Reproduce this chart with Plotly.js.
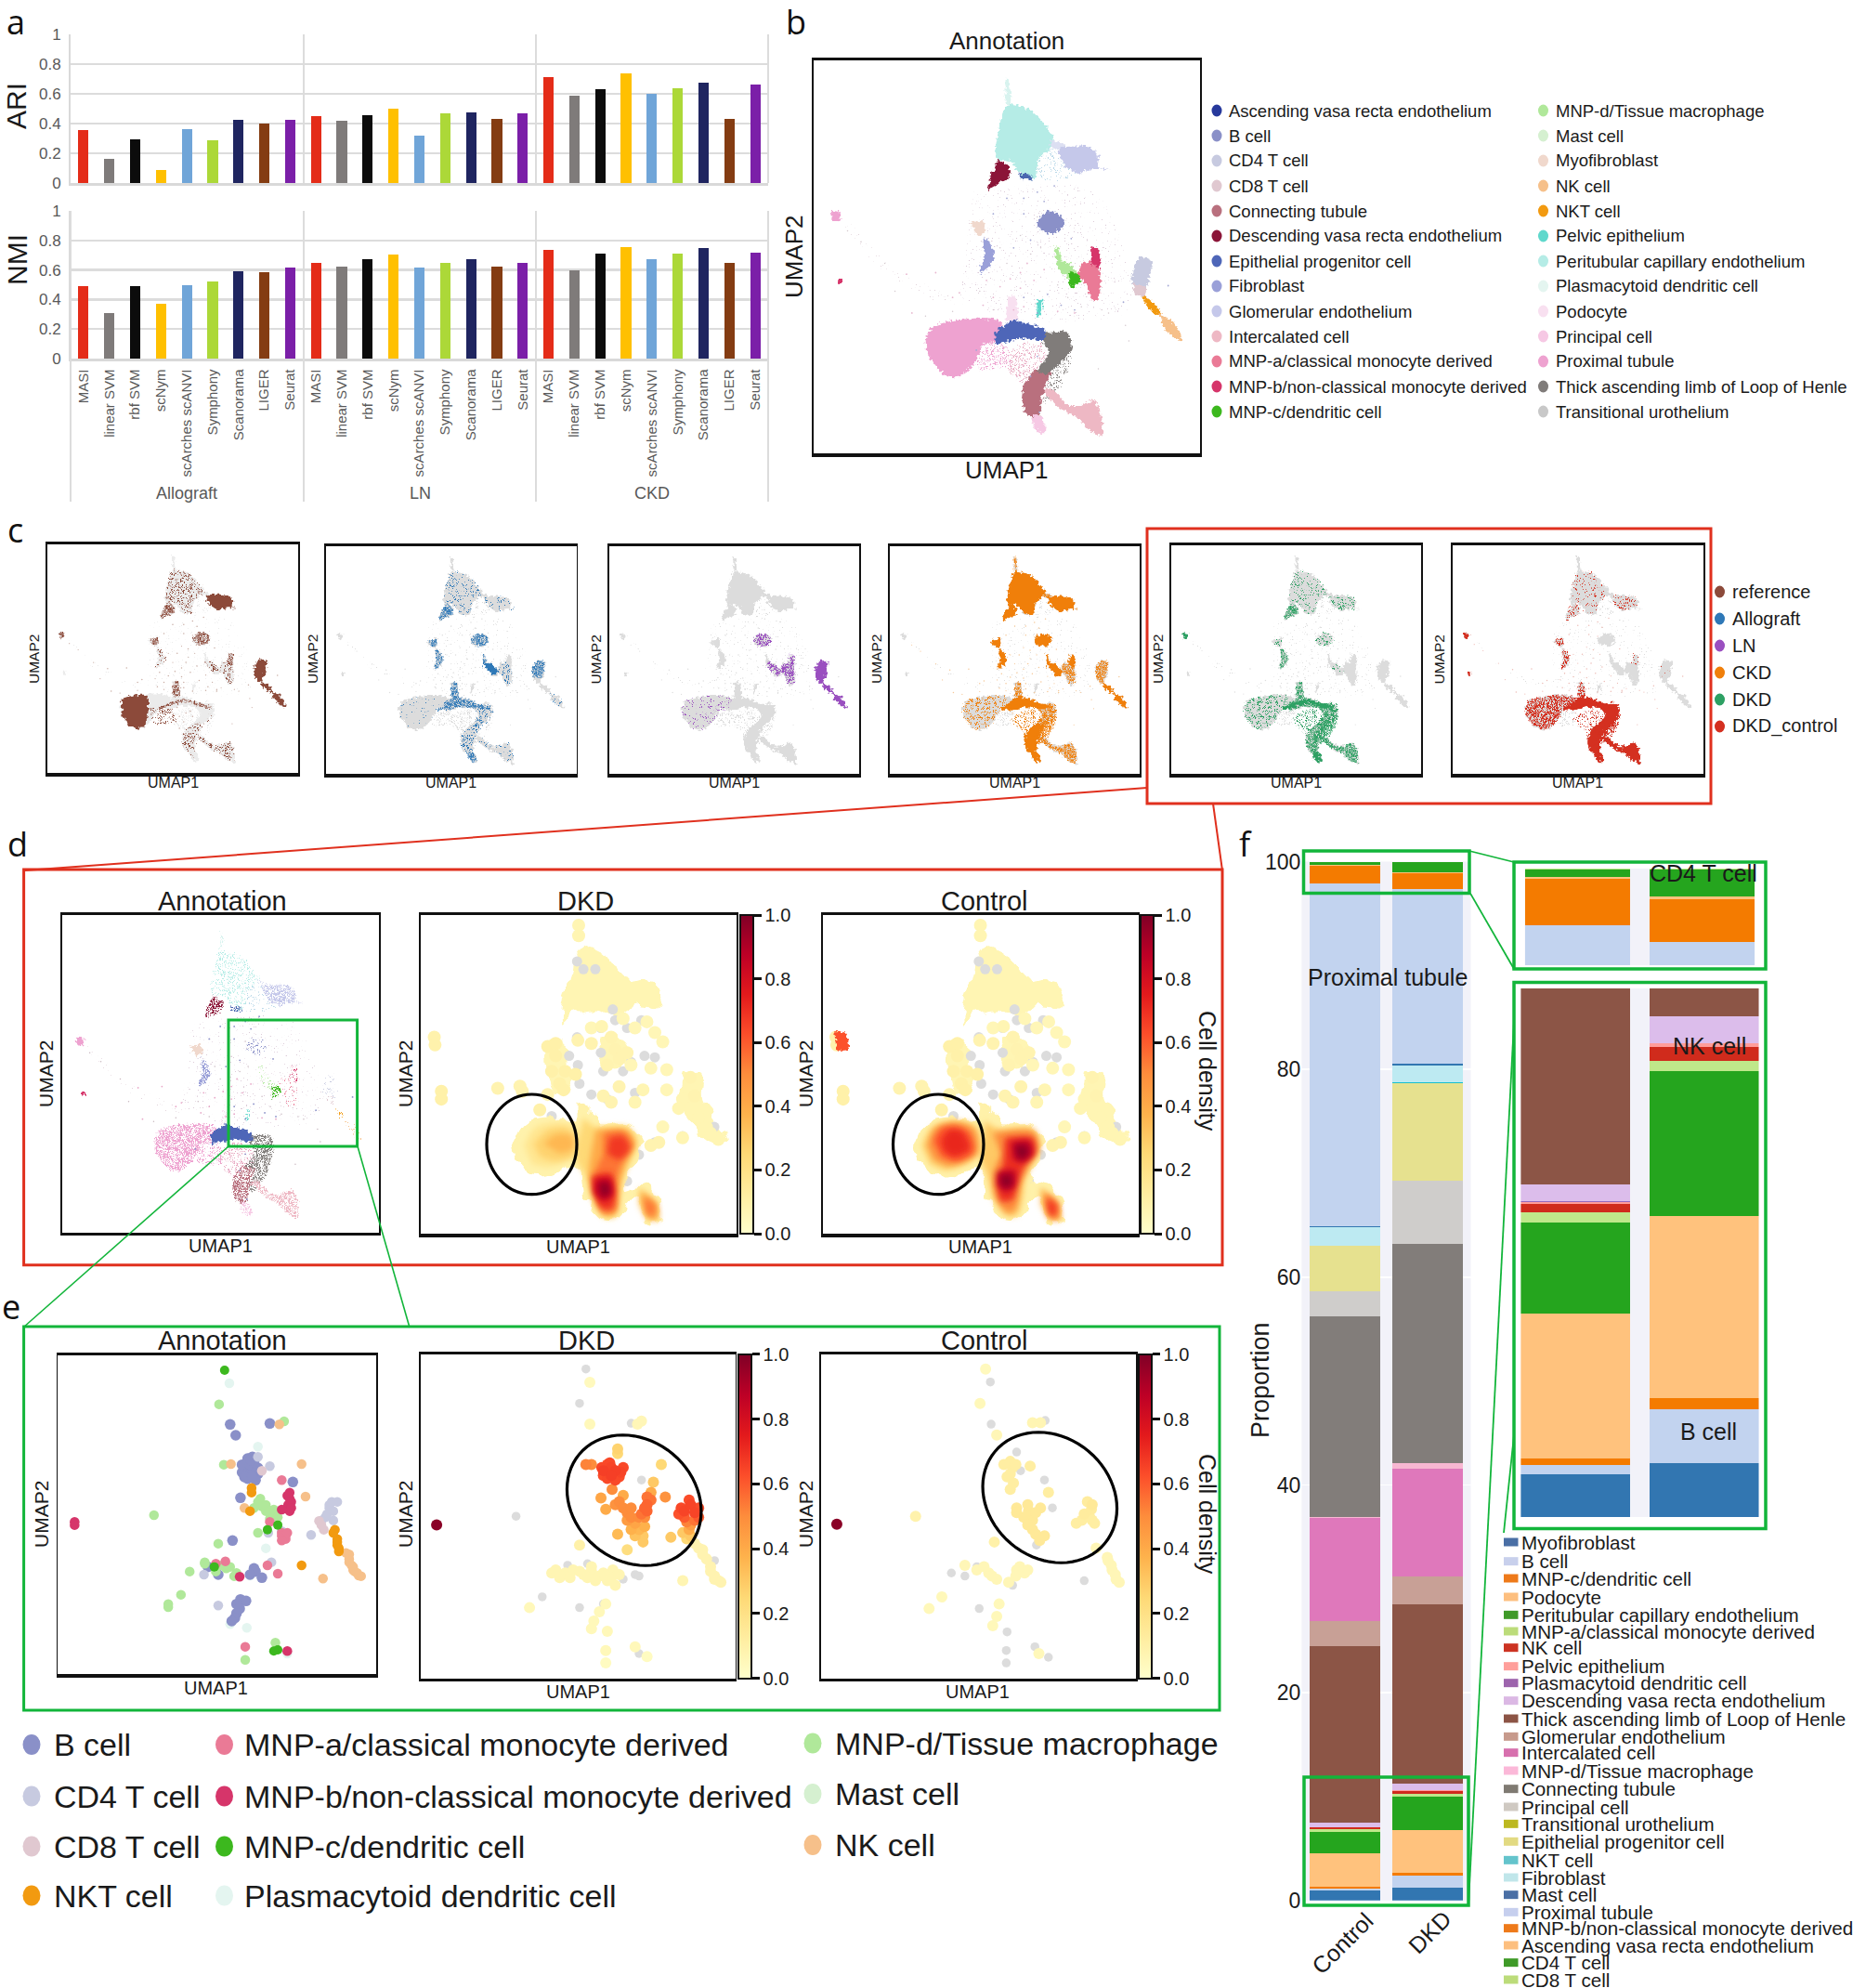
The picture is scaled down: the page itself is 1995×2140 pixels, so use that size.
<!DOCTYPE html>
<html><head><meta charset="utf-8">
<script src="https://cdn.plot.ly/plotly-3.0.1.min.js"></script>
<style>html,body{margin:0;padding:0;background:#fff}</style></head>
<body>
<svg width="0" height="0" style="position:absolute"><defs>
<filter id="rough" x="-30%" y="-30%" width="160%" height="160%" color-interpolation-filters="sRGB"><feTurbulence type="fractalNoise" baseFrequency=".3" numOctaves="2" seed="4" result="n"/><feDisplacementMap in="SourceGraphic" in2="n" scale="7" xChannelSelector="R" yChannelSelector="G"/></filter>
<filter id="bumpy" x="-30%" y="-30%" width="160%" height="160%" color-interpolation-filters="sRGB"><feTurbulence type="fractalNoise" baseFrequency=".07" numOctaves="2" seed="7" result="n"/><feDisplacementMap in="SourceGraphic" in2="n" scale="16" xChannelSelector="R" yChannelSelector="G"/></filter>
<filter id="sp0" x="-30%" y="-30%" width="160%" height="160%" color-interpolation-filters="sRGB"><feTurbulence type="fractalNoise" baseFrequency=".7" numOctaves="2" seed="2" result="n"/><feColorMatrix in="n" type="matrix" values="0 0 0 0 0 0 0 0 0 0 0 0 0 0 0 14 0 0 0 -9.9" result="m"/><feComposite in="SourceGraphic" in2="m" operator="in"/></filter>
<filter id="sp1" x="-30%" y="-30%" width="160%" height="160%" color-interpolation-filters="sRGB"><feTurbulence type="fractalNoise" baseFrequency=".6" numOctaves="2" seed="5" result="n"/><feColorMatrix in="n" type="matrix" values="0 0 0 0 0 0 0 0 0 0 0 0 0 0 0 14 0 0 0 -8.6" result="m"/><feComposite in="SourceGraphic" in2="m" operator="in" result="s"/><feDisplacementMap in="s" in2="n" scale="6" xChannelSelector="R" yChannelSelector="G"/></filter>
<filter id="sp2" x="-30%" y="-30%" width="160%" height="160%" color-interpolation-filters="sRGB"><feTurbulence type="fractalNoise" baseFrequency=".55" numOctaves="2" seed="9" result="n"/><feColorMatrix in="n" type="matrix" values="0 0 0 0 0 0 0 0 0 0 0 0 0 0 0 14 0 0 0 -7.6" result="m"/><feComposite in="SourceGraphic" in2="m" operator="in" result="s"/><feDisplacementMap in="s" in2="n" scale="6" xChannelSelector="R" yChannelSelector="G"/></filter>
<filter id="sp3" x="-30%" y="-30%" width="160%" height="160%" color-interpolation-filters="sRGB"><feTurbulence type="fractalNoise" baseFrequency=".5" numOctaves="2" seed="11" result="n"/><feColorMatrix in="n" type="matrix" values="0 0 0 0 0 0 0 0 0 0 0 0 0 0 0 14 0 0 0 -6.4" result="m"/><feComposite in="SourceGraphic" in2="m" operator="in" result="s"/><feDisplacementMap in="s" in2="n" scale="6" xChannelSelector="R" yChannelSelector="G"/></filter>
<filter id="soft" x="-30%" y="-30%" width="160%" height="160%"><feGaussianBlur stdDeviation="3"/></filter>
</defs></svg>
<div id="chart" style="width:1995px;height:2140px"></div>
<script>
/* ---------- panel a data ---------- */
const methods=['MASI','linear SVM','rbf SVM','scNym','scArches scANVI','Symphony','Scanorama','LIGER','Seurat'];
const methodColors=['#e42c18','#7f7b7a','#0c0c0c','#ffc000','#70a5d8','#acd838','#1f2560','#843c12','#7b1fa8'];
const tissues=['Allograft','LN','CKD'];
const ari=[.355,.16,.296,.09,.36,.287,.425,.403,.423, .447,.42,.454,.5,.316,.47,.477,.434,.47, .71,.586,.632,.74,.6,.64,.677,.434,.664];
const nmi=[.493,.31,.493,.37,.495,.52,.59,.587,.614, .65,.62,.675,.706,.619,.65,.675,.62,.65, .733,.6,.708,.756,.67,.713,.751,.65,.717];

/* ---------- UMAP territories (UMAP units) ---------- */
const ptc=[[325,335],[345,345],[365,375],[385,430],[390,460],[368,510],[360,578],[345,572],[325,520],[304,512],[308,420],[316,350]];
const peak=[[318,255],[322,255],[325,335],[318,335]];
const ptcSpray=[[360,480],[400,480],[420,560],[370,590]];
const desc=[[308,515],[325,545],[322,575],[300,600],[293,612],[296,570]];
const glom=[[400,475],[440,475],[455,500],[455,540],[470,545],[440,548],[425,560],[405,530],[395,490]];
const glomLink=[[385,450],[405,470],[400,485],[385,470]];
const asc=[[338,560],[355,565],[358,580],[340,578]];
const bcell=[[380,680],[400,695],[405,725],[390,752],[372,745],[365,720],[372,695]];
const myofib=[[266,718],[285,715],[288,740],[280,760],[272,745]];
const fibro=[[285,765],[295,785],[302,830],[290,870],[280,880],[287,830]];
const star=[[62,680],[72,685],[75,695],[72,715],[64,712],[60,695]];
const cross=[[71,900],[77,900],[77,914],[71,914]];
const mnpD=[[395,838],[410,850],[425,880],[430,900],[415,905],[400,875],[392,850]];
const mnpC=[[412,875],[425,885],[430,900],[415,928],[412,905]];
const mnpA=[[430,850],[445,845],[456,870],[455,965],[445,965],[437,920],[425,885]];
const mnpB=[[445,800],[455,800],[456,870],[444,850]];
const mnpLink=[[390,795],[396,800],[400,840],[393,840]];
const cd4=[[515,830],[533,840],[530,900],[525,930],[505,915],[507,860]];
const cd8=[[505,915],[525,925],[522,960],[510,950]];
const nkt=[[520,955],[535,975],[548,1015],[540,1015],[525,985]];
const nk=[[545,1010],[565,1040],[578,1098],[565,1085],[550,1055]];
const proximal=[[208,1055],[240,1035],[280,1028],[312,1040],[305,1100],[285,1110],[280,1140],[265,1190],[245,1218],[225,1205],[205,1150],[200,1100]];
const proxLeft=[[203,1050],[240,1030],[262,1035],[265,1100],[258,1190],[245,1218],[225,1205],[205,1150]];
const proxSpray=[[265,1100],[312,1095],[325,1180],[280,1195]];
const epith=[[330,1030],[350,1045],[375,1065],[380,1095],[340,1092],[305,1108],[303,1070]];
const tal=[[378,1075],[410,1075],[415,1130],[400,1170],[380,1205],[365,1200],[382,1140],[372,1100]];
const haze=[[310,1160],[340,1110],[372,1110],[380,1180],[345,1240],[320,1190]];
const conn=[[360,1195],[385,1190],[378,1240],[370,1300],[368,1340],[350,1340],[342,1290],[345,1240]];
const connSpray=[[385,1170],[415,1130],[410,1190],[395,1260],[375,1300],[370,1240]];
const intercal=[[430,1310],[448,1290],[458,1330],[460,1405],[440,1385],[425,1350],[400,1320],[375,1260],[385,1255],[410,1310]];
const principal=[[355,1345],[368,1340],[378,1385],[372,1400],[360,1380]];
const podocyte=[[322,955],[332,955],[335,1035],[318,1035]];
const pelvic=[[365,970],[372,965],[368,1020],[364,1020]];
const midHaze=[[270,620],[450,620],[500,1000],[330,1030],[250,960]];
const tailHaze=[[75,720],[140,880],[240,990],[255,980],[150,860],[90,720]];
const arcTrack=[[290,1105],[320,1075],[345,1060],[375,1080],[405,1100]];
const spineTrack=[[410,1100],[400,1170],[375,1230],[360,1300],[365,1380]];
const tailTrack=[[375,1250],[400,1310],[440,1340]];
const strayPink=[[330,1000],[345,990],[300,960],[285,985],[250,945],[240,960],[215,880],[172,885],[180,1010],[350,1130],[335,1150],[320,1170],[315,1125],[360,1120],[345,1180],[335,1215],[395,1005],[420,1010],[350,850],[340,880],[325,900],[360,905],[375,870],[340,930],[310,925],[290,905]];
const strayBlue=[[365,1010],[345,960],[380,950],[400,985],[355,775],[330,800],[300,690],[345,640],[365,620],[390,600],[375,650],[320,640],[415,770],[345,690],[420,1000],[492,975],[558,922],[330,1100],[365,1150],[355,1215],[368,1330],[275,1130]];
const strayGrey=[[140,850],[155,940],[105,780],[85,745],[200,1020],[240,1005],[280,940],[300,1000],[320,850],[355,820],[365,700],[340,760],[310,800],[370,800],[395,920],[410,960],[430,990],[460,1000],[500,1100],[470,1010],[455,1190],[495,1050]];

/* ---------- panel d density: pale points [umap x, umap y, density] and grey cells ---------- */
const dPale=[[729,228,.07],[729,262,.07],[547,590,.09],[548,615,.09],[556,765,.1],[556,790,.1],[627,755,.08],[655,748,.08],[658,765,.08],[690,620,.1],[700,610,.1],[700,650,.1],[695,700,.1],[705,740,.1],[712,700,.1],[745,610,.08],[770,590,.08],[775,630,.08],[780,660,.08],[790,640,.08],[765,680,.08],[795,680,.06],[820,690,.06],[840,695,.06],[835,605,.06],[825,575,.06],[800,560,.06],[785,530,.06],[745,560,.06],[840,760,.06],[860,790,.07],[870,720,.08],[875,780,.08],[855,820,.07],[880,850,.07],[890,880,.07],[905,920,.07],[895,900,.07],[830,930,.08],[820,940,.08],[860,915,.07],[835,880,.06],[760,780,.08],[780,750,.08],[810,760,.07],[770,800,.08],[800,800,.07],[680,825,.1],[728,600,.08],[758,555,.07],[815,540,.06],[690,775,.08],[710,760,.1],[725,710,.1]];
const dGrey=[[727,345],[735,370],[750,370],[772,500],[775,535],[757,560],[808,535],[790,560],[727,590],[717,650],[728,680],[757,640],[812,650],[825,655],[795,670],[760,700],[730,740],[745,775],[765,790],[785,700],[800,770],[695,845],[860,910],[825,930],[805,970],[795,990],[900,880],[790,1055]];
const dUpper=[[735,290],[760,320],[775,370],[790,410],[820,405],[835,470],[830,495],[800,490],[780,520],[765,520],[750,500],[720,520],[708,545],[708,480],[718,400],[722,340]];
const dMiddleA=[[755,590],[785,590],[795,650],[780,690],[755,680],[760,630]];
const dMiddleB=[[690,605],[710,610],[715,680],[722,770],[700,780],[692,720],[688,650]];
const dMiddleC=[[860,700],[885,700],[885,790],[905,860],[915,930],[895,935],[865,850],[855,770]];
const ctrlSpot=[[545,575],[558,575],[563,628],[548,632]];
/* density contours: level, outline */
const dkdContours=[
 [.09,[[645,940],[660,870],[700,850],[725,860],[730,960],[720,1000],[690,1035],[665,1030],[650,990]]],
 [.1,[[725,800],[745,830],[755,870],[790,870],[810,930],[800,1000],[790,1040],[790,1080],[815,1060],[830,1130],[830,1190],[815,1185],[800,1120],[775,1180],[760,1180],[740,1120],[735,1040],[715,980],[725,900]]],
 [.17,[[660,940],[675,880],[705,865],[725,880],[728,960],[715,990],[690,1010],[670,1000]]],
 [.27,[[672,935],[690,890],[715,885],[728,930],[722,975],[698,990],[680,975]]],
 [.36,[[685,935],[700,905],[720,910],[722,950],[705,965]]],
 [.25,[[735,850],[750,880],[790,880],[803,930],[795,990],[785,1040],[780,1110],[775,1170],[762,1172],[745,1110],[738,1040],[725,980],[730,900]]],
 [.3,[[805,1075],[825,1120],[830,1180],[817,1180],[805,1130]]],
 [.4,[[750,890],[790,890],[800,930],[790,990],[782,1060],[775,1160],[760,1165],[748,1100],[742,1030],[745,960]]],
 [.45,[[808,1095],[828,1130],[826,1175],[815,1170]]],
 [.55,[[760,900],[785,895],[797,940],[785,990],[775,1060],[775,1150],[760,1155],[750,1100],[748,1040],[760,970]]],
 [.55,[[812,1110],[824,1135],[822,1165],[815,1160]]],
 [.68,[[768,915],[785,910],[793,950],[780,985],[765,965]]],
 [.7,[[745,1040],[770,1030],[775,1100],[770,1145],[757,1140],[748,1090]]],
 [.85,[[750,1050],[768,1045],[772,1100],[760,1120],[748,1090]]],
 [.97,[[755,1065],[765,1060],[768,1095],[758,1105]]]];
const ctrlContours=[
 [.1,[[645,940],[660,870],[700,850],[728,860],[735,960],[720,1010],[690,1040],[665,1030],[650,990]]],
 [.1,[[725,800],[745,830],[755,870],[790,870],[810,930],[800,1000],[795,1050],[815,1065],[832,1130],[830,1190],[815,1185],[800,1120],[775,1180],[760,1180],[740,1120],[735,1040],[715,980],[725,900]]],
 [.28,[[655,940],[668,880],[700,860],[725,880],[730,960],[712,1000],[685,1020],[665,1000]]],
 [.48,[[662,940],[672,885],[695,865],[720,885],[726,960],[710,990],[688,1005],[670,985]]],
 [.62,[[670,925],[680,885],[700,880],[715,900],[720,960],[700,990],[680,975]]],
 [.72,[[680,925],[690,890],[705,895],[715,950],[695,975],[683,955]]],
 [.3,[[735,860],[750,885],[795,885],[805,940],[795,1000],[785,1050],[782,1110],[775,1165],[762,1168],[745,1110],[738,1040],[728,980]]],
 [.35,[[805,1075],[825,1120],[830,1180],[817,1180],[805,1130]]],
 [.5,[[745,900],[795,895],[802,950],[790,1000],[780,1060],[772,1150],[762,1155],[750,1110],[745,1030],[755,970]]],
 [.55,[[810,1095],[828,1130],[826,1175],[815,1170]]],
 [.68,[[812,1110],[824,1135],[822,1165],[815,1160]]],
 [.7,[[760,915],[795,915],[798,965],[785,1005],[775,1070],[770,1115],[755,1120],[750,1060],[758,1000]]],
 [.88,[[768,930],[790,925],[795,965],[782,995],[770,985]]],
 [.88,[[750,1025],[772,1020],[772,1075],[760,1090],[750,1065]]],
 [.98,[[773,945],[786,942],[788,970],[778,982]]],
 [.98,[[755,1040],[766,1038],[768,1065],[757,1072]]]];

/* ---------- panel e points ---------- */
const eBcell=[[290,340],[340,337],[297,375],[312,450],[320,460],[310,480],[320,490],[305,495],[315,505],[325,500],[312,515],[322,520],[305,470],[315,470],[325,480],[308,510],[318,510],[318,445],[316,455],[303,577],[369,526],[293,715],[262,800],[320,805],[322,815],[315,825],[330,835],[275,825],[303,905],[310,910],[298,920],[302,935],[298,950],[296,965],[292,975]];
const eMnpD=[[276,275],[358,330],[282,470],[325,590],[330,605],[335,620],[320,610],[345,630],[340,645],[328,580],[335,600],[340,620],[325,600],[345,615],[350,640],[194,633],[325,690],[275,725],[258,785],[272,815],[290,800],[298,820],[280,795],[258,790],[285,805],[295,830],[239,815],[228,890],[212,920],[212,930],[347,1045],[309,1100]];
const eNkt=[[317,545],[317,560],[315,620],[380,795],[422,680],[425,710],[425,730],[427,750],[420,690],[425,720],[427,740]];
const eNk=[[352,340],[291,468],[380,468],[385,573],[308,610],[407,838],[440,760],[440,785],[445,800],[447,815],[452,828],[436,755],[440,775],[443,795],[445,810],[450,820],[455,830]];
const eCd4=[[325,445],[340,475],[418,590],[415,610],[412,630],[420,650],[415,600],[420,620],[410,640],[405,650],[425,590],[355,685],[392,697],[342,785],[338,690],[275,925],[257,825]];
const eCd8=[[402,652],[408,680],[330,490],[405,665]];
const eMnpA=[[355,520],[340,655],[357,695],[360,710],[355,690],[355,700],[360,700],[355,715],[362,690],[272,790],[284,782],[337,795],[350,822],[309,1058]];
const eMnpB=[[365,560],[365,580],[363,600],[365,620],[355,615],[362,570],[367,590],[367,610],[94,655],[94,665],[302,832],[362,1072]];
const eMnpC=[[283,165],[350,665],[337,680],[270,800],[350,1068],[345,1072]];
const ePdc=[[289,207],[325,412],[335,740],[315,828],[311,997],[290,985],[362,1080]];
const eDkd=[[743,205,.04],[743,340,.05],[808,330,.06],[803,340,.06],[730,730,.1],[880,740,.08],[885,760,.08],[895,800,.08],[900,830,.08],[905,845,.08],[875,725,.08],[885,745,.08],[890,775,.08],[895,815,.08],[900,840,.08],[908,850,.08],[695,820,.07],[712,820,.07],[722,810,.07],[735,825,.07],[745,815,.07],[755,830,.07],[772,810,.07],[770,835,.07],[775,860,.07],[860,845,.07],[745,800,.07],[700,810,.07],[705,835,.07],[718,835,.07],[730,815,.07],[740,835,.07],[750,845,.07],[760,820,.07],[765,845,.07],[780,825,.07],[667,932,.05],[763,920,.05],[755,945,.05],[748,975,.05],[745,1000,.05],[765,1008,.05],[763,1070,.05],[800,1058,.05],[815,1090,.03],[763,1110,.03],[865,710,.25],[790,745,.22],[833,470,.25],[823,527,.3],[778,420,.27],[778,435,.25],[810,700,.3],[810,720,.3],[845,705,.3],[860,690,.3],[870,700,.3],[800,700,.32],[778,695,.35],[795,680,.38],[812,670,.38],[805,680,.36],[868,680,.4],[763,615,.4],[785,570,.4],[820,560,.4],[757,578,.42],[800,660,.42],[790,650,.45],[870,665,.45],[838,575,.48],[775,600,.48],[771,550,.5],[780,590,.5],[785,610,.5],[790,625,.5],[795,640,.5],[812,640,.5],[795,610,.5],[805,640,.5],[738,470,.52],[745,470,.5],[865,655,.52],[815,575,.55],[875,650,.55],[820,585,.55],[808,630,.55],[815,600,.58],[815,620,.58],[812,610,.58],[862,640,.6],[880,640,.6],[855,630,.62],[765,470,.62],[868,585,.63],[880,610,.63],[780,510,.63],[760,505,.63],[770,480,.65],[782,495,.65],[862,620,.65],[870,600,.65],[875,625,.65],[858,610,.64],[758,480,.64],[785,480,.64],[768,465,.64],[765,515,.64],[775,520,.64],[760,490,.66],[775,490,.66],[770,505,.66],[550,665,.98]];
const eDkdGrey=[[738,162],[730,273],[795,337],[650,637],[808,520],[715,795],[740,790],[785,840],[800,825],[805,830],[900,780],[683,897],[730,932],[760,920],[805,1080]];
const eCtrl=[[737,162,.04],[730,273,.05],[796,335,.07],[806,335,.07],[751,375,.06],[649,637,.09],[768,460,.12],[771,480,.12],[764,510,.12],[768,550,.12],[793,475,.12],[816,560,.12],[768,500,.12],[772,530,.12],[760,470,.12],[775,470,.12],[776,610,.15],[791,620,.15],[806,610,.15],[796,650,.15],[796,680,.15],[811,700,.15],[776,625,.15],[785,640,.15],[790,600,.15],[800,625,.15],[790,665,.15],[800,695,.15],[805,715,.15],[871,600,.15],[861,630,.13],[851,660,.12],[871,650,.12],[865,590,.13],[870,615,.13],[858,650,.12],[868,640,.12],[874,660,.12],[748,720,.1],[876,740,.06],[891,780,.06],[896,810,.06],[901,840,.06],[890,770,.06],[895,795,.06],[900,825,.06],[905,850,.06],[711,795,.06],[726,810,.06],[741,820,.06],[751,840,.06],[776,810,.06],[786,820,.06],[766,850,.06],[745,830,.06],[735,800,.06],[780,800,.06],[775,830,.06],[790,810,.06],[682,897,.05],[666,935,.05],[754,920,.05],[751,960,.05],[746,990,.05],[804,1080,.05],[550,663,.98]];
const eCtrlGrey=[[743,204],[744,340],[812,328],[776,430],[781,490],[811,520],[821,610],[801,730],[861,845],[694,820],[711,830],[726,800],[771,860],[729,935],[764,1010],[799,1058],[816,1092],[763,1070],[763,1110]];

/* ---------- panel f data: bottom to top ---------- */
const cellTypes=['Myofibroblast','B cell','MNP-c/dendritic cell','Podocyte','Peritubular capillary endothelium','MNP-a/classical monocyte derived','NK cell','Pelvic epithelium','Plasmacytoid dendritic cell','Descending vasa recta endothelium','Thick ascending limb of Loop of Henle','Glomerular endothelium','Intercalated cell','MNP-d/Tissue macrophage','Connecting tubule','Principal cell','Transitional urothelium','Epithelial progenitor cell','NKT cell','Fibroblast','Mast cell','Proximal tubule','MNP-b/non-classical monocyte derived','Ascending vasa recta endothelium','CD4 T cell','CD8 T cell'];
const controlShare=[.95,.21,.15,3.26,2.03,.23,.20,.04,.01,.38,17.04,2.4,9.9,.15,19.25,2.4,.02,4.38,.02,1.78,.1,33.04,1.69,.07,.28,.02];
const dkdShare=[1.2,1.22,.25,4.09,3.24,.23,.32,.08,.01,.6,17.26,2.7,10.4,.5,21.1,6.1,.02,9.38,.05,1.65,.15,16.79,1.56,.1,.95,.05];
const barColors=['#3276b1','#c2d3ef','#f47b00','#ffc27d','#25a51e','#bfe88a','#d02b1c','#ff9d9a','#9467bd','#dcbdeb','#8c5546','#c8a096','#df78bb','#f8b7d2','#827d7a','#cfcdcb','#bcbd22','#e6e18f','#17becf','#bdeaf2','#3276b1','#c2d3ef','#f47b00','#ffc27d','#25a51e','#bfe88a'];
const keyColors=['#4a6fa5','#c8d0ec','#ee7a1a','#fdbf7f','#3f9a28','#bcdc7a','#cc3322','#ff9f9b','#9d64ad','#dbb8e4','#8c5445','#c79a8c','#d770ae','#fbb8d8','#7f7a72','#cfc9c2','#bcb820','#e2da82','#64c4cc','#c0e6ea','#4a6fa5','#c6cfee','#ee7a1a','#fdbf7f','#3f9a28','#bcdc7a'];

/* ---------- legends ---------- */
const annotLegendA=[['Ascending vasa recta endothelium','#27399c'],['B cell','#8a90c8'],['CD4 T cell','#c7cae0'],['CD8 T cell','#e0c8d0'],['Connecting tubule','#b9707e'],['Descending vasa recta endothelium','#8b1538'],['Epithelial progenitor cell','#4e66b8'],['Fibroblast','#9aa0d8'],['Glomerular endothelium','#c5c8ea'],['Intercalated cell','#eeb8c4'],['MNP-a/classical monocyte derived','#ea7a96'],['MNP-b/non-classical monocyte derived','#d6356a'],['MNP-c/dendritic cell','#3cb81e']];
const annotLegendB=[['MNP-d/Tissue macrophage','#b0e89a'],['Mast cell','#d5f0d0'],['Myofibroblast','#f0d8cc'],['NK cell','#f6c08a'],['NKT cell','#f29a10'],['Pelvic epithelium','#60d8cc'],['Peritubular capillary endothelium','#b5ece6'],['Plasmacytoid dendritic cell','#e4f5f0'],['Podocyte','#f8e0f0'],['Principal cell','#f6c8e4'],['Proximal tubule','#eea2d0'],['Thick ascending limb of Loop of Henle','#807c7a'],['Transitional urothelium','#c8c8c8']];
const datasets=[['reference','#8c4a3a'],['Allograft','#2e78b7'],['LN','#9a4fc0'],['CKD','#f07f0a'],['DKD','#2da063'],['DKD_control','#d43020']];

/* ---------- colours of territories ---------- */
const C={midHaze:'#dccbd8',tailHaze:'#e2d2da',ptcSpray:'#b9d8e8',proxSpray:'#eea2d0',ptc:'#b5ece6',peak:'#d8f3ef',desc:'#8b1538',glom:'#c5c8ea',glomLink:'#dcdff2',asc:'#4a66b0',bcell:'#8a90c8',myofib:'#f0d8cc',fibro:'#9aa0d8',star:'#eea2d0',cross:'#d6356a',mnpD:'#b0e89a',mnpC:'#3cb81e',mnpA:'#ea7a96',mnpB:'#d6356a',mnpLink:'#b0e89a',cd4:'#c7cae0',cd8:'#e0c8d0',nkt:'#f29a10',nk:'#f6c08a',proximal:'#eea2d0',epith:'#4e66b8',tal:'#807c7a',haze:'#e8a8c0',conn:'#b9707e',connSpray:'#8f8a88',intercal:'#eeb8c4',principal:'#f6c8e4',podocyte:'#f8e0f0',pelvic:'#60d8cc'};
const P={midHaze,tailHaze,ptcSpray,proxSpray,ptc,peak,desc,glom,glomLink,asc,bcell,myofib,fibro,star,cross,mnpD,mnpC,mnpA,mnpB,mnpLink,cd4,cd8,nkt,nk,proximal,proxLeft,epith,tal,haze,conn,connSpray,intercal,principal,podocyte,pelvic};
const drawOrder=['midHaze','tailHaze','peak','podocyte','haze','proxSpray','ptcSpray','ptc','glomLink','glom','desc','asc','bcell','myofib','fibro','star','cross','mnpLink','mnpD','mnpA','mnpB','mnpC','cd4','cd8','nkt','nk','proximal','epith','connSpray','intercal','conn','principal','tal','pelvic'];
const baseTexture={midHaze:'sp0',tailHaze:'sp0',proxSpray:'sp2',ptcSpray:'sp1',haze:'sp2',connSpray:'sp2'};

const fgPanels=[
 {color:'#8c4a3a',bg:'#ebebeb',stray:'#c9ada4',use:{proxLeft:1,glom:.9,bcell:.85,cd4:1,cd8:1,nkt:1,nk:1,myofib:.5,fibro:.3,ptc:.35,desc:.5,mnpA:.4,mnpB:.6,mnpD:.4,intercal:.4,star:.8,podocyte:.5,proxSpray:.4,conn:.25},tracks:[[arcTrack,3,.7],[spineTrack,2,.25],[tailTrack,1.5,.4]]},
 {color:'#2e78b7',bg:'#dcdcdc',stray:'#dedede',use:{ptc:.1,desc:.6,glom:.18,bcell:.65,fibro:.8,mnpD:.9,mnpA:.25,mnpLink:.8,cd4:.5,nk:.15,proximal:.04,epith:.5,tal:.35,conn:.28,principal:.7,intercal:.15,podocyte:.6,myofib:.5},tracks:[[arcTrack,3,.8],[spineTrack,2,.45]]},
 {color:'#9a4fc0',bg:'#dcdcdc',stray:'#dedede',use:{bcell:.8,mnpD:.6,mnpA:.5,mnpB:.8,mnpC:.6,cd4:.9,cd8:.9,nkt:1,nk:.9,proximal:.12},tracks:[]},
 {color:'#f07f0a',bg:'#dcdcdc',stray:'#f5c798',use:{peak:.7,ptc:1,desc:1,glom:1,glomLink:.7,bcell:1,myofib:1,fibro:1,mnpD:1,mnpLink:1,mnpA:.7,mnpB:1,mnpC:1,cd4:.5,cd8:.5,nkt:.9,nk:.9,proximal:.42,epith:1,tal:.7,haze:.3,conn:.9,connSpray:.8,principal:.9,intercal:.8,podocyte:.8},tracks:[[arcTrack,4,1],[spineTrack,3,.8],[tailTrack,2,.8]]},
 {color:'#2da063',bg:'#dcdcdc',stray:'#dedede',use:{ptc:.1,desc:.5,glom:.28,bcell:.3,fibro:.7,myofib:.4,star:1,mnpD:.1,proximal:.32,epith:.85,tal:.85,conn:.85,connSpray:.7,principal:.9,intercal:.75,podocyte:.8,haze:.2},tracks:[[arcTrack,4,1],[spineTrack,4,.8],[tailTrack,2,.8]]},
 {color:'#d43020',bg:'#dcdcdc',stray:'#edbcb6',use:{ptc:.14,desc:.4,glom:.25,fibro:.5,myofib:.6,star:1,cross:1,proximal:.55,epith:1,tal:1,conn:1,connSpray:.8,principal:1,intercal:.9,podocyte:.85,haze:.3,mnpB:.3,cd4:.05},tracks:[[arcTrack,4,1],[spineTrack,4,1],[tailTrack,2,1]]}
];
const annotationDDensity={midHaze:.05,tailHaze:.05,peak:.3,podocyte:.3,haze:.3,proxSpray:.3,ptcSpray:.1,ptc:.22,glomLink:.2,glom:.6,desc:.7,asc:.7,bcell:.3,myofib:.9,fibro:.6,star:.9,cross:.9,mnpLink:.2,mnpD:.4,mnpA:.15,mnpB:.2,mnpC:.5,cd4:.15,cd8:.15,nkt:.12,nk:.12,proximal:.7,epith:.9,connSpray:.6,intercal:.8,conn:.7,principal:.8,tal:.8,pelvic:.2};

const colorStops=[[0,'#ffffcc'],[.125,'#ffeda0'],[.25,'#fed976'],[.375,'#feb24c'],[.5,'#fd8d3c'],[.625,'#fc4e2a'],[.75,'#e31a1c'],[.875,'#bd0026'],[1,'#800026']];

/* ---------- helpers ---------- */
const W=1995,H=2140,FONT='"Liberation Sans",Arial,sans-serif';
const traces=[],annotations=[],shapes=[];
const layout={width:W,height:H,margin:{l:0,r:0,t:0,b:0},autosize:false,showlegend:false,barmode:'stack',paper_bgcolor:'#fff',plot_bgcolor:'#fff',font:{family:FONT,color:'#1a1a1a'},hovermode:false,annotations,shapes};
let axisCount=0;
function axes(r,xo,yo){
  axisCount++;const n=axisCount===1?'':axisCount;
  layout['xaxis'+n]=Object.assign({domain:[r[0]/W,r[1]/W],anchor:'y'+n,showgrid:false,zeroline:false,showticklabels:false,ticks:''},xo);
  layout['yaxis'+n]=Object.assign({domain:[1-r[3]/H,1-r[2]/H],anchor:'x'+n,showgrid:false,zeroline:false,showticklabels:false,ticks:''},yo);
  return {x:'x'+n,y:'y'+n};
}
function frameAxes(r,xr,yr){
  return axes(r,{range:xr,showline:true,mirror:true,linecolor:'#111',linewidth:3.5},{range:yr,showline:true,mirror:true,linecolor:'#111',linewidth:1.8});
}
const fx=v=>v/W, fy=v=>1-v/H;
function txt(text,x,y,size,o={}){
  annotations.push({text,x:fx(x),y:fy(y),xref:'paper',yref:'paper',showarrow:false,xanchor:o.anchor||'center',yanchor:'middle',textangle:o.angle||0,font:{size,family:o.family||FONT,color:o.color||'#1a1a1a'}});
}
function line(x0,y0,x1,y1,color,width){shapes.push({type:'line',xref:'paper',yref:'paper',x0:fx(x0),y0:fy(y0),x1:fx(x1),y1:fy(y1),line:{color,width}});}
function box(x0,y0,x1,y1,color,width){shapes.push({type:'rect',xref:'paper',yref:'paper',x0:fx(x0),y0:fy(y0),x1:fx(x1),y1:fy(y1),line:{color,width},fillcolor:'rgba(0,0,0,0)'});}
function oval(x0,y0,x1,y1,color,width,fill){shapes.push({type:'circle',xref:'paper',yref:'paper',x0:fx(x0),y0:fy(y0),x1:fx(x1),y1:fy(y1),line:{color,width},fillcolor:fill||'rgba(0,0,0,0)'});}
function dot(cx,cy,rx,ry,color){oval(cx-rx,cy-ry,cx+rx,cy+ry,color,0,color);}
/* tilted ring drawn over a density panel */
function tiltedRing(cx,cy,rx,ry,skew){
  let p='';
  for(let i=0;i<=72;i++){
    const t=i/72*2*Math.PI,c=Math.cos(t),s=Math.sin(t);
    p+=(i?'L':'M')+fx(cx+rx*c+skew*s)+','+fy(cy+ry*s+skew*c);
  }
  shapes.push({type:'path',xref:'paper',yref:'paper',path:p+'Z',line:{color:'#000',width:3.2},fillcolor:'rgba(0,0,0,0)'});
}
function poly(a,pts,color,op,texture){
  traces.push({type:'scatter',mode:'lines',xaxis:a.x,yaxis:a.y,meta:texture||'',x:pts.map(p=>p[0]),y:pts.map(p=>p[1]),fill:'toself',fillcolor:color,opacity:op,line:{color:'rgba(0,0,0,0)',width:0,shape:'spline',smoothing:.8},hoverinfo:'skip'});
}
function track(a,pts,color,width,texture){
  traces.push({type:'scatter',mode:'lines',xaxis:a.x,yaxis:a.y,meta:texture,x:pts.map(p=>p[0]),y:pts.map(p=>p[1]),line:{color,width,shape:'spline'},hoverinfo:'skip'});
}
function pts(a,list,color,size,op){
  traces.push({type:'scatter',mode:'markers',xaxis:a.x,yaxis:a.y,x:list.map(p=>p[0]),y:list.map(p=>p[1]),opacity:op===undefined?1:op,marker:{color,size,line:{width:0}},hoverinfo:'skip'});
}
function texture(d){return d>=.9?'rough':d>=.5?'sp3':d>=.2?'sp2':d>=.08?'sp1':'sp0';}
function hexToRgb(h){return [1,3,5].map(i=>parseInt(h.substr(i,2),16));}
function densityColor(z){
  for(let i=1;i<colorStops.length;i++){
    if(z<=colorStops[i][0]){
      const a=colorStops[i-1],b=colorStops[i],t=(z-a[0])/(b[0]-a[0]),ca=hexToRgb(a[1]),cb=hexToRgb(b[1]);
      return 'rgb('+ca.map((c,k)=>Math.round(c+(cb[k]-c)*t)).join(',')+')';
    }
  }
  return colorStops[colorStops.length-1][1];
}
function colorbar(x,y0,y1){
  return {x:fx(x),xanchor:'left',xpad:0,ypad:0,y:fy(y1),yanchor:'bottom',len:y1-y0,lenmode:'pixels',thickness:14,thicknessmode:'pixels',tickvals:[0,.2,.4,.6,.8,1],ticktext:['0.0','0.2','0.4','0.6','0.8','1.0'],ticks:'outside',ticklen:8,tickwidth:3,tickcolor:'#111',outlinecolor:'#111',outlinewidth:2,tickfont:{size:20,color:'#1a1a1a',family:FONT}};
}
function densityPts(a,list,size,cb){
  const s=list.slice().sort((p,q)=>p[2]-q[2]);
  traces.push({type:'scatter',mode:'markers',xaxis:a.x,yaxis:a.y,x:s.map(p=>p[0]),y:s.map(p=>p[1]),marker:{size,color:s.map(p=>p[2]),cmin:0,cmax:1,colorscale:colorStops,showscale:!!cb,colorbar:cb,line:{width:0}},hoverinfo:'skip'});
}
const UX=[35,605],UY=[1463,195];

/* ---------- panel a ---------- */
const aIdx=ari.map((_,i)=>i);
const aColors=aIdx.map(i=>methodColors[i%9]);
const aTicks=aIdx.map(i=>methods[i%9]);
function aPanel(r,vals,labels){
  const a=axes(r,{range:[-.5,26.5],showline:true,linecolor:'#d9d9d9',linewidth:2.5,showticklabels:labels,tickvals:aIdx,ticktext:aTicks,tickangle:-90,ticks:labels?'outside':'',ticklen:3,tickcolor:'rgba(0,0,0,0)',tickfont:{size:15,color:'#595959'}},
    {range:[0,1],showline:true,linecolor:'#d9d9d9',linewidth:2,showgrid:true,gridcolor:'#dcdcdc',gridwidth:2.5,tickvals:[0,.2,.4,.6,.8,1],ticktext:['0','0.2','0.4','0.6','0.8','1'],showticklabels:true,tickfont:{size:17,color:'#595959'},ticks:'outside',ticklen:5,tickcolor:'rgba(0,0,0,0)'});
  traces.push({type:'bar',xaxis:a.x,yaxis:a.y,x:aIdx,y:vals,width:.4,marker:{color:aColors,line:{width:0}},hoverinfo:'skip'});
}
aPanel([76,827,37,197],ari,false);
aPanel([76,827,227,386],nmi,true);
[327,577,827].forEach(x=>line(x,37,x,197,'#dcdcdc',2));
[76,327,577,827].forEach(x=>line(x,227,x,540,'#dcdcdc',2));
[201,452,702].forEach((x,i)=>txt(tissues[i],x,531,18,{color:'#595959'}));
txt('ARI',18,114,30,{angle:-90});
txt('NMI',18,280,30,{angle:-90});

/* ---------- panel b ---------- */
const bAxes=frameAxes([876,1292,65,488],UX,UY);
drawOrder.forEach(k=>poly(bAxes,P[k],C[k],1,baseTexture[k]||'rough'));
pts(bAxes,strayPink,'#e8b8d0',1.8);pts(bAxes,strayBlue,'#a4a8d4',1.8);pts(bAxes,strayGrey,'#d4c8ce',1.5);
txt('Annotation',1084,44,26);txt('UMAP1',1084,506,26);txt('UMAP2',855,276,26,{angle:-90});
annotLegendA.forEach((d,i)=>{const y=119+i*27;dot(1310,y,5.5,6.5,d[1]);txt(d[0],1321,y,18.5,{anchor:'left'});});
annotLegendB.forEach((d,i)=>{const y=119+i*27;dot(1661.5,y,5.5,6.5,d[1]);txt(d[0],1673,y,18.5,{anchor:'left'});});

/* ---------- panel c ---------- */
const cRects=[[51,321,586,832],[351,620.5,588,833],[655.6,925,588,833],[958,1227,588,833],[1261,1530,587,833],[1563.5,1834,587,833]];
cRects.forEach((r,i)=>{
  const f=fgPanels[i],a=frameAxes(r,UX,UY);
  drawOrder.forEach(k=>poly(a,P[k],f.bg,1,baseTexture[k]||'rough'));
  pts(a,strayPink,f.stray,1.5);pts(a,strayBlue,f.stray,1.5);pts(a,strayGrey,f.stray,1.2);
  Object.keys(f.use).forEach(k=>poly(a,P[k],f.color,1,texture(f.use[k])));
  f.tracks.forEach(t=>track(a,t[0],f.color,t[1],texture(t[2])));
  txt('UMAP1',(r[0]+r[1])/2,843,16);
  txt('UMAP2',r[0]-15,710,15.5,{angle:-90});
});
datasets.forEach((d,i)=>{const y=637+i*29;dot(1851.5,y,5.5,6.5,d[1]);txt(d[0],1863,y,20,{anchor:'left'});});
box(1235,569,1842,865,'#e0301e',3);

/* ---------- panel d ---------- */
const dA=frameAxes([66.7,407.7,985,1326.7],UX,UY);
drawOrder.forEach(k=>poly(dA,P[k],C[k],1,texture(annotationDDensity[k])));
pts(dA,strayPink,'#e8a8c8',1.8);pts(dA,strayBlue,'#8a90c8',1.8);pts(dA,strayGrey,'#c9b8c0',1.5);
function densityD(r,contours,cbx,spot){
  const a=frameAxes(r,[530,928],[1225,195]);
  [dUpper,dMiddleA,dMiddleB,dMiddleC].forEach(p=>poly(a,p,densityColor(.07),1,'bumpy'));
  pts(a,dGrey,'#dcdcdc',11);
  densityPts(a,dPale,14,colorbar(cbx,985,1328));
  contours.forEach(c=>poly(a,c[1],densityColor(c[0]),1,c[0]<=.1?'bumpy':'soft'));
  if(spot) poly(a,spot,densityColor(.62),1,'rough');
}
densityD([453,793,985,1328],dkdContours,796.5);
densityD([885.5,1225.6,985,1328],ctrlContours,1228,ctrlSpot);
txt('Annotation',239,970,29);txt('DKD',630,970,29);txt('Control',1060,970,29);
txt('UMAP1',237,1341,20);txt('UMAP1',622,1342,20);txt('UMAP1',1055,1342,20);
txt('UMAP2',49,1156,21,{angle:-90});txt('UMAP2',436,1156,21,{angle:-90});txt('UMAP2',867,1156,21,{angle:-90});
txt('Cell density',1300,1153,25,{angle:90});
oval(524,1178,621,1285.7,'#000',3.2);oval(961.5,1178,1059,1285.7,'#000',3.2);
box(25.6,936,1316,1361.7,'#e0301e',3);
box(246,1098,384.6,1234,'#12b53a',3);
line(1235,848,27,937,'#e0301e',2);line(1306,865,1316,937,'#e0301e',2);
line(246,1234,25,1429,'#12b53a',1.6);line(385,1234,441,1429,'#12b53a',1.6);

/* ---------- panel e ---------- */
const eA=frameAxes([62.4,405,1459.3,1802],[73,474],[1146,118]);
pts(eA,ePdc,'#e4f5f0',10.5);pts(eA,eBcell,'#8a90c8',11.5);pts(eA,eCd4,'#c7cae0',10.5);pts(eA,eCd8,'#e0c8d0',10.5);
pts(eA,eMnpD,'#b0e89a',10.5);pts(eA,eNk,'#f6c08a',10.5);pts(eA,eNkt,'#f29a10',10.5);pts(eA,eMnpA,'#ea7a96',10.5);pts(eA,eMnpB,'#d6356a',10.5);pts(eA,eMnpC,'#3cb81e',10);
function densityE(r,grey,list,cbx){
  const a=frameAxes(r,[530,926],[1160,115]);
  pts(a,grey,'#dcdcdc',9.5);
  densityPts(a,list,12,colorbar(cbx,r[2],r[3]));
}
densityE([453,791.5,1458,1806.7],eDkdGrey,eDkd,794.5);
densityE([883.8,1223,1458,1806.7],eCtrlGrey,eCtrl,1225.6);
txt('Annotation',239,1443,29);txt('DKD',631,1443,29);txt('Control',1060,1443,29);
txt('UMAP1',232.5,1817,20);txt('UMAP1',622,1821,20);txt('UMAP1',1052,1821,20);
txt('UMAP2',44,1630,21,{angle:-90});txt('UMAP2',436,1630,21,{angle:-90});txt('UMAP2',867,1630,21,{angle:-90});
txt('Cell density',1300,1630,25,{angle:90});
tiltedRing(682.7,1615,72,70,6);tiltedRing(1130.3,1612,72,70,6);
box(25.6,1428,1313,1841,'#12b53a',3);
const eLegend=[[34,56,1878,'B cell','#8a90c8'],[34,56,1933.5,'CD4 T cell','#c7cae0'],[34,56,1987.5,'CD8 T cell','#e0c8d0'],[34,56,2040.5,'NKT cell','#f29a10'],
 [241.5,261,1878,'MNP-a/classical monocyte derived','#ea7a96'],[241.5,261,1933.5,'MNP-b/non-classical monocyte derived','#d6356a'],[241.5,261,1987.5,'MNP-c/dendritic cell','#3cb81e'],[241.5,261,2040.5,'Plasmacytoid dendritic cell','#e4f5f0'],
 [875,897,1876.5,'MNP-d/Tissue macrophage','#b0e89a'],[875,897,1931,'Mast cell','#d5f0d0'],[875,897,1986,'NK cell','#f6c08a']];
eLegend.forEach(d=>{dot(d[0],d[2],9.5,11,d[4]);txt(d[3],d[1],d[2],34,{anchor:'left'});});

/* ---------- panel f ---------- */
function fPanel(r,yr,xr,main){
  const a=axes(r,{range:xr,type:'category',showticklabels:false,tickvals:['Control','DKD']},
   {range:yr,showgrid:main,gridcolor:'#fff',gridwidth:1.5,tickvals:main?[0,20,40,60,80,100]:[],showticklabels:main,tickfont:{size:23,color:'#1a1a1a'}});
  shapes.push({type:'rect',xref:'paper',yref:'paper',layer:'below',x0:fx(r[0]),x1:fx(r[1]),y0:fy(r[3]),y1:fy(r[2]),fillcolor:'#f2f2f9',line:{width:0}});
  cellTypes.forEach((n,i)=>traces.push({type:'bar',name:n,xaxis:a.x,yaxis:a.y,x:['Control','DKD'],y:[controlShare[i],dkdShare[i]],width:.847,marker:{color:barColors[i],line:{width:0}},hoverinfo:'skip'}));
}
fPanel([1401.4,1583.5,927.6,2045.7],[0,100],[-.516,1.516],true);
fPanel([1641.6,1889.3,935,1039],[96.5,100],[-.4235,1.4235],false);
fPanel([1637.4,1893.5,1064,1633],[0,11.86],[-.41,1.41],false);
txt('Proportion',1357,1486,27,{angle:-90});
txt('Control',1445,2092,25,{angle:-45});txt('DKD',1539,2080,25,{angle:-45});
txt('Proximal tubule',1493.7,1052,25);txt('CD4 T cell',1833.7,940,25);txt('NK cell',1840,1126,25);txt('B cell',1839,1541,25);
box(1403.5,916,1582,961.6,'#12b53a',3.5);box(1404,1913,1581,2051,'#12b53a',3.5);
box(1630,928,1901,1043,'#12b53a',3.5);box(1630,1057.5,1901,1645.5,'#12b53a',3.5);
line(1582,916,1630,928,'#12b53a',1.8);line(1583,961.6,1630,1043,'#12b53a',1.8);
line(1581,2050,1630,1100,'#12b53a',1.8);line(1630,1545,1619,1650,'#12b53a',1.8);
shapes.push({type:'rect',xref:'paper',yref:'paper',x0:fx(1612),x1:fx(1995),y0:fy(2140),y1:fy(1650),fillcolor:'#fff',line:{width:0}});
const fKeyRows=[60,122,177,237,295,348,401,461,515,572,630,688,740,798,857,915,970,1027,1087,1143,1199,1255,1307,1362,1418,1473];
cellTypes.forEach((n,i)=>{
  const y=1640+fKeyRows[i]/3;
  shapes.push({type:'rect',xref:'paper',yref:'paper',x0:fx(1619),x1:fx(1634.5),y0:fy(y+4.5),y1:fy(y-4.5),fillcolor:keyColors[i],line:{width:0}});
  txt(n,1635.5,y,20.6,{anchor:'left'});
});
/* panel letters */
[['a',17,23],['b',857,23],['c',16,570],['d',19,908],['e',12,1406],['f',1341,908]].forEach(l=>txt(l[0],l[1],l[2],36,{family:'"Open Sans",sans-serif',color:'#111'}));

Plotly.newPlot('chart',traces,layout,{staticPlot:true,displayModeBar:false}).then(()=>{
  document.querySelectorAll('.scatterlayer .trace').forEach(g=>{
    const d=g.__data__&&g.__data__[0]&&g.__data__[0].trace;
    if(d&&d.meta) g.style.filter='url(#'+d.meta+')';
  });
});
</script></body></html>
